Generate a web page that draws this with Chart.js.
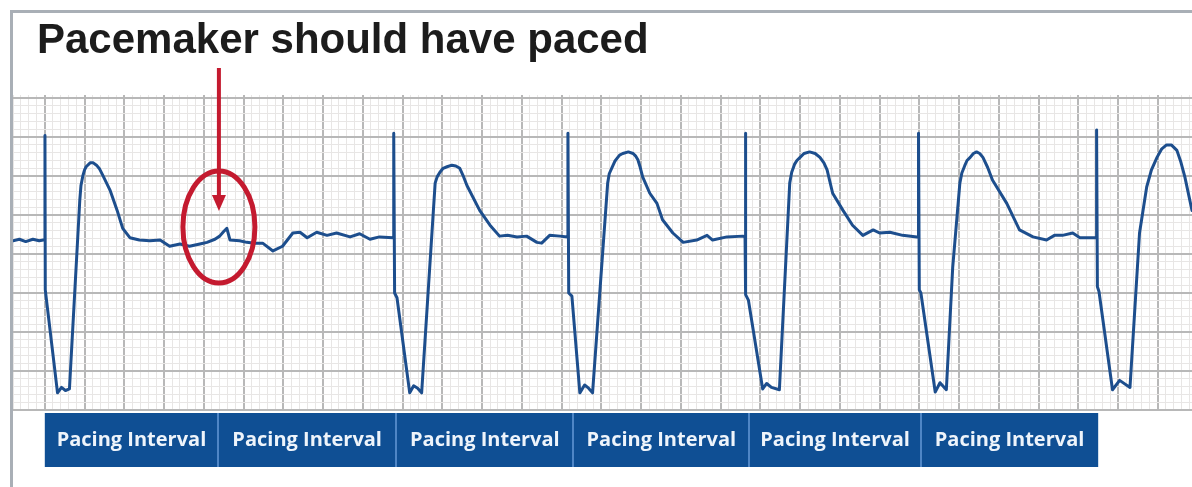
<!doctype html>
<html lang="en">
  <head>
    <meta charset="utf-8">
    <title>Pacemaker should have paced</title>
    <style>
      * { margin: 0; padding: 0; }
      body { background: #ffffff; width: 1192px; height: 487px; overflow: hidden; }
      canvas { display: block; }
    </style>
  </head>
  <body>
    <canvas id="ecg" width="1192" height="487"></canvas>

    <script src="https://cdn.jsdelivr.net/npm/chart.js@4.4.1/dist/chart.umd.min.js"></script>
    <script>
    // data block: x in small squares of the strip, y in small squares above the bottom line
    const beat1 = [
      [-4.0, 21.7], [-3.2, 21.9], [-2.4, 21.6], [-1.5, 21.9], [-0.7, 21.7], [-0.2, 21.8],
      [0, 21.8], [0.02, 35.2], [0.06, 15.4],
      [1.6, 2.2], [2.1, 2.9], [2.6, 2.5], [3.1, 2.7],
      [4.4, 26.9], [4.55, 28.8], [4.8, 30.1], [5.0, 30.8], [5.2, 31.2], [5.7, 31.7], [6.1, 31.7],
      [6.5, 31.4], [6.9, 30.9], [7.3, 30.1], [8.2, 28.2],
      [9.1, 25.6], [9.8, 23.3], [10.7, 22.1], [11.9, 21.8]
    ];
    const missedBeat = [
      [13.2, 21.7], [14.5, 21.8], [15.7, 21.0], [17.0, 21.3], [18.2, 21.0], [19.5, 21.3], [20.4, 21.5],
      [21.4, 21.9], [22.0, 22.3], [22.5, 22.9], [22.9, 23.3], [23.3, 21.8], [24.5, 21.7], [25.4, 21.5],
      [26.4, 21.4], [27.4, 21.4], [28.7, 20.4], [29.9, 21.0], [31.2, 22.7], [32.1, 22.8], [33.0, 22.1],
      [34.2, 22.8], [35.5, 22.4], [36.7, 22.7], [38.4, 22.2], [39.6, 22.6], [40.9, 21.9], [42.1, 22.2],
      [43.8, 22.1]
    ];
    const beat2 = [
      [43.88, 22.1], [43.9, 35.5], [44.0, 15.0], [44.3, 14.4],
      [45.9, 2.2], [46.4, 3.1], [46.9, 2.8], [47.4, 2.2],
      [49.1, 29.1], [49.35, 29.9], [49.7, 30.5], [50.1, 31.0], [50.6, 31.2], [51.2, 31.4], [51.7, 31.3],
      [52.2, 31.0], [52.6, 30.1], [53.1, 28.8], [54.7, 25.6],
      [56.0, 23.7], [57.2, 22.3], [58.2, 22.4], [59.4, 22.2], [60.6, 22.3], [61.9, 21.5], [62.5, 21.4],
      [63.5, 22.4], [64.8, 22.3], [65.78, 22.2]
    ];
    const beat3 = [
      [65.8, 35.5], [65.9, 15.0], [66.3, 14.6],
      [67.3, 2.2], [67.9, 3.2], [68.4, 2.8], [68.9, 2.2],
      [70.8, 29.1], [71.0, 30.3], [71.4, 31.2], [71.7, 31.9], [72.0, 32.3], [72.3, 32.7], [72.7, 32.9],
      [73.4, 33.1], [74.0, 32.9], [74.3, 32.6], [74.6, 32.1], [74.9, 31.1], [75.2, 29.9],
      [76.1, 27.8], [77.0, 26.5], [77.7, 24.4], [79.0, 22.7], [80.3, 21.5], [82.0, 21.8], [83.3, 22.4],
      [84.0, 21.8], [85.8, 22.2], [87.8, 22.3], [88.08, 22.2]
    ];
    const beat4 = [
      [88.1, 35.5], [88.2, 14.8], [88.5, 14.1],
      [90.3, 2.7], [90.8, 3.4], [91.4, 2.9], [92.4, 2.6],
      [93.7, 29.1], [93.95, 30.5], [94.3, 31.5], [94.6, 32.0], [95.0, 32.4], [95.5, 32.9], [96.2, 33.1],
      [96.9, 32.9], [97.5, 32.4], [98.0, 31.7], [98.4, 30.8], [99.1, 27.8],
      [100.4, 25.6], [101.6, 23.7], [102.9, 22.4], [104.2, 23.1], [105.0, 22.7], [106.3, 22.8],
      [107.9, 22.4], [109.7, 22.2], [109.88, 22.2]
    ];
    const beat5 = [
      [109.9, 35.5], [110.0, 15.4], [110.2, 15.0],
      [112.0, 2.3], [112.6, 3.5], [113.4, 2.6],
      [114.2, 18.3], [115.1, 29.1], [115.35, 30.4], [115.7, 31.3], [116.0, 32.0], [116.4, 32.4],
      [116.8, 32.9], [117.2, 33.1], [117.6, 32.9], [118.0, 32.4], [118.6, 31.1],
      [119.2, 29.5], [121.0, 26.5], [122.6, 23.1], [124.3, 22.2], [126.0, 21.8], [127.0, 22.4],
      [128.0, 22.4], [129.3, 22.7], [130.2, 22.1], [132.28, 22.1]
    ];
    const beat6 = [
      [132.3, 35.9], [132.4, 15.8], [132.6, 15.2],
      [134.3, 2.6], [135.2, 3.8], [136.5, 2.9],
      [137.7, 22.7], [138.6, 28.6], [139.2, 30.8], [139.9, 32.4], [140.5, 33.5], [141.1, 34.0],
      [141.7, 34.0], [142.4, 33.3], [142.9, 31.8], [143.4, 29.9],
      [144.3, 25.6]
    ];

    const intervalLabels = ['Pacing Interval', 'Pacing Interval', 'Pacing Interval',
                            'Pacing Interval', 'Pacing Interval', 'Pacing Interval'];
    const intervalEdges = [0, 21.8, 44.2, 66.5, 88.6, 110.2, 132.5];
    const missedPaceAt = 21.9;
    const titleText = 'Pacemaker should have paced';

    const trace = [...beat1, ...missedBeat, ...beat2, ...beat3, ...beat4, ...beat5, ...beat6]
      .map(([x, y]) => ({ x, y }));

    const data = {
      datasets: [{
        data: trace,
        borderColor: '#1d4e8d',
        borderWidth: 3,
        borderJoinStyle: 'round',
        borderCapStyle: 'round',
        pointRadius: 0,
        tension: 0,
        fill: false
      }]
    };

    // grid helpers: every fifth small square is a heavy line
    const isMajor = (ctx) => Math.round(ctx.tick.value) % 5 === 0;
    const gridColor = (ctx) => isMajor(ctx) ? '#b8b8b8' : '#e8e6e5';
    const gridWidth = (ctx) => isMajor(ctx) ? 2 : 1;

    // annotations plugin block
    const stripDecor = {
      id: 'stripDecor',
      beforeDraw: (chart) => {
        const { ctx, width, height } = chart;
        ctx.save();
        ctx.fillStyle = '#ffffff';
        ctx.fillRect(0, 0, width, height);
        ctx.restore();
      },
      afterDraw: (chart) => {
        const { ctx, chartArea: { bottom }, scales: { x } } = chart;
        ctx.save();

        // pacing interval boxes
        const boxTop = bottom + 3;
        const boxH = 54;
        for (let i = 0; i < intervalLabels.length; i++) {
          const x0 = x.getPixelForValue(intervalEdges[i]);
          const x1 = x.getPixelForValue(intervalEdges[i + 1]);
          ctx.fillStyle = '#0f4f94';
          ctx.fillRect(x0, boxTop, x1 - x0, boxH);
          ctx.fillStyle = '#eef4fb';
          ctx.font = 'bold 20px "Open Sans"';
          ctx.textAlign = 'center';
          ctx.textBaseline = 'middle';
          ctx.fillText(intervalLabels[i], (x0 + x1) / 2, boxTop + boxH / 2);
        }
        ctx.strokeStyle = '#4f86c6';
        ctx.lineWidth = 2;
        for (let i = 1; i < intervalLabels.length; i++) {
          const xe = Math.round(x.getPixelForValue(intervalEdges[i]));
          ctx.beginPath();
          ctx.moveTo(xe, boxTop);
          ctx.lineTo(xe, boxTop + boxH);
          ctx.stroke();
        }

        // title
        ctx.fillStyle = '#1c1c1c';
        ctx.font = 'bold 42px "Liberation Sans"';
        ctx.textAlign = 'left';
        ctx.textBaseline = 'alphabetic';
        ctx.fillText(titleText, 37, 53);

        // red arrow and ring at the missed pace
        const ax = x.getPixelForValue(missedPaceAt);
        ctx.strokeStyle = '#c41a2f';
        ctx.fillStyle = '#c41a2f';
        ctx.lineWidth = 4;
        ctx.beginPath();
        ctx.moveTo(ax, 68);
        ctx.lineTo(ax, 198);
        ctx.stroke();
        ctx.beginPath();
        ctx.moveTo(ax - 7, 195);
        ctx.lineTo(ax + 7, 195);
        ctx.lineTo(ax, 211);
        ctx.closePath();
        ctx.fill();
        ctx.lineWidth = 5;
        ctx.beginPath();
        ctx.ellipse(ax, 227, 36, 56, 0, 0, Math.PI * 2);
        ctx.stroke();

        // frame
        ctx.strokeStyle = '#a9afb6';
        ctx.lineWidth = 3;
        ctx.beginPath();
        ctx.moveTo(11.5, 487);
        ctx.lineTo(11.5, 11.5);
        ctx.lineTo(1192, 11.5);
        ctx.stroke();

        ctx.restore();
      }
    };

    // config block
    const config = {
      type: 'line',
      data: data,
      options: {
        responsive: false,
        animation: false,
        layout: { padding: { left: 13, right: 0, top: 95, bottom: 77 } },
        plugins: {
          legend: { display: false },
          tooltip: { enabled: false }
        },
        scales: {
          x: {
            type: 'linear',
            min: -4,
            max: 144.3,
            border: { display: false },
            ticks: { display: false, stepSize: 1, includeBounds: false },
            grid: { drawTicks: false, color: gridColor, lineWidth: gridWidth }
          },
          y: {
            type: 'linear',
            min: 0,
            max: 40.4,
            border: { display: false },
            ticks: { display: false, stepSize: 1, includeBounds: false },
            grid: { drawTicks: false, color: gridColor, lineWidth: gridWidth }
          }
        }
      },
      plugins: [stripDecor]
    };

    // init render block
    const ecgChart = new Chart(document.getElementById('ecg'), config);
    </script>
  </body>
</html>
